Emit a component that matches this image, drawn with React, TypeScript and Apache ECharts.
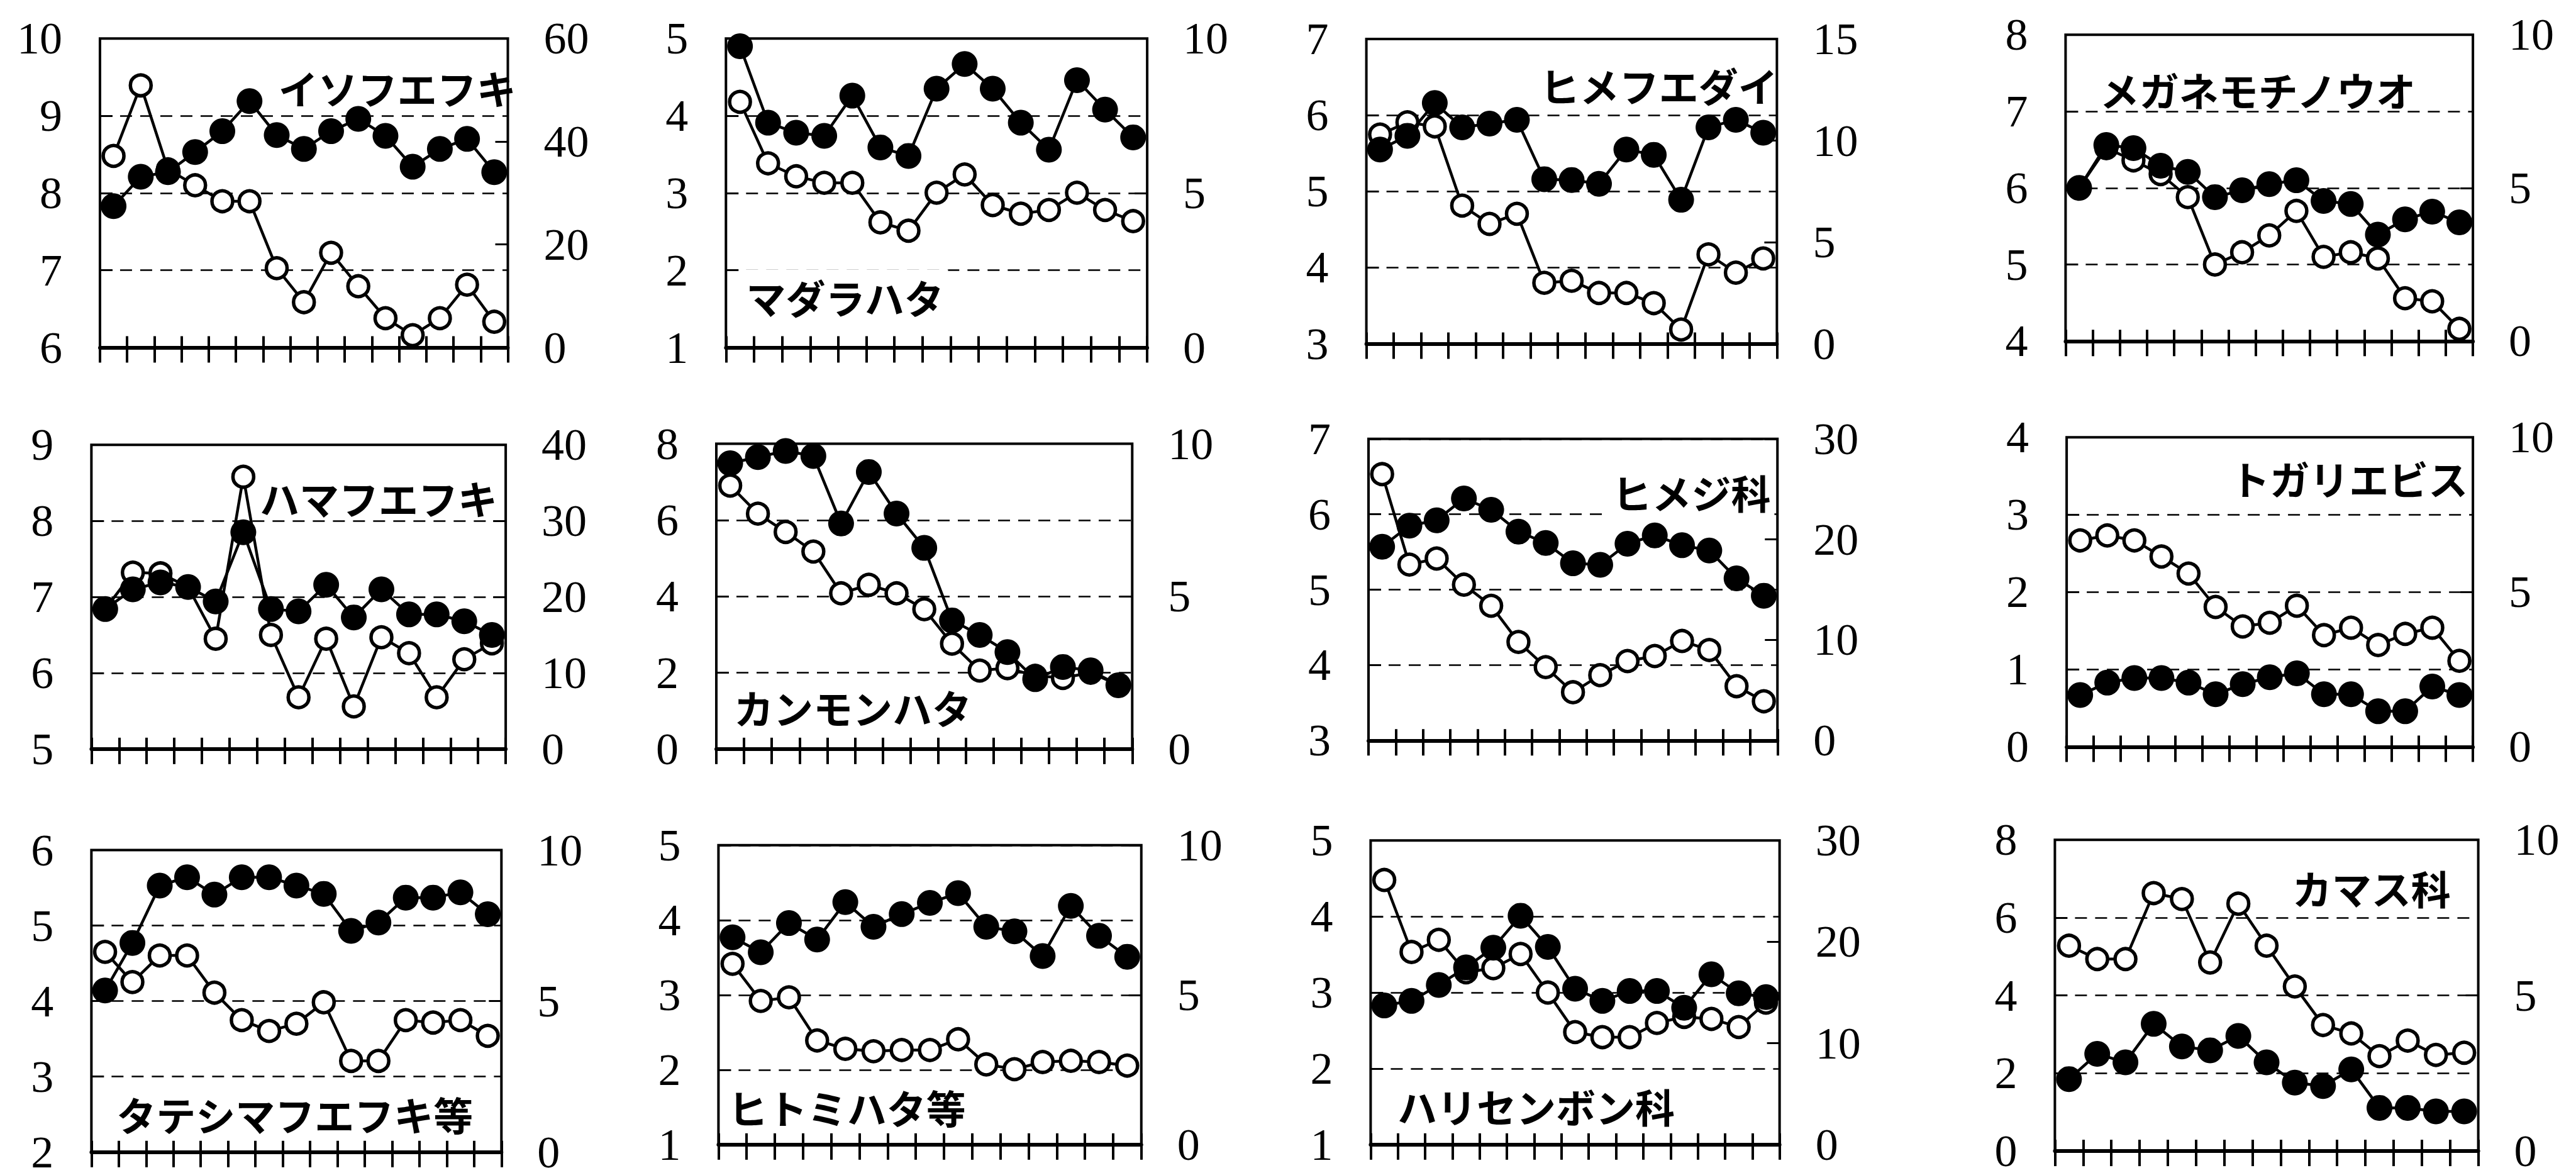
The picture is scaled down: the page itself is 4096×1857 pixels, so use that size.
import React, { useEffect, useRef } from "react";
import * as echarts from "echarts";

// ---------- data ----------
const categories = ["1", "2", "3", "4", "5", "6", "7", "8", "9", "10", "11", "12", "13", "14", "15"];

const panelNames = [
  "イソフエフキ", "マダラハタ", "ヒメフエダイ", "メガネモチノウオ",
  "ハマフエフキ", "カンモンハタ", "ヒメジ科", "トガリエビス",
  "タテシマフエフキ等", "ヒトミハタ等", "ハリセンボン科", "カマス科",
];

// left axis (filled circles) [min, max, interval]
const leftAxisTicks = [
  [6, 10, 1], [1, 5, 1], [3, 7, 1], [4, 8, 1],
  [5, 9, 1], [0, 8, 2], [3, 7, 1], [0, 4, 1],
  [2, 6, 1], [1, 5, 1], [1, 5, 1], [0, 8, 2],
];
// right axis (open circles) [min, max, interval]
const rightAxisTicks = [
  [0, 60, 20], [0, 10, 5], [0, 15, 5], [0, 10, 5],
  [0, 40, 10], [0, 10, 5], [0, 30, 10], [0, 10, 5],
  [0, 10, 5], [0, 10, 5], [0, 30, 10], [0, 10, 5],
];

const isofuefukiFilled = [7.83, 8.21, 8.27, 8.53, 8.8, 9.19, 8.75, 8.57, 8.8, 8.96, 8.74, 8.34, 8.57, 8.7, 8.27];
const isofuefukiOpen = [37.2, 50.9, 34.6, 31.5, 28.4, 28.4, 15.4, 8.8, 18.4, 11.9, 5.7, 2.4, 5.7, 12.2, 5.0];

const madarahataFilled = [4.9, 3.91, 3.78, 3.74, 4.26, 3.59, 3.48, 4.35, 4.67, 4.35, 3.91, 3.56, 4.46, 4.08, 3.72];
const madarahataOpen = [7.95, 5.96, 5.54, 5.33, 5.33, 4.05, 3.78, 5.01, 5.6, 4.61, 4.33, 4.45, 5.01, 4.45, 4.09];

const himefuedaiFilled = [5.55, 5.73, 6.16, 5.84, 5.89, 5.94, 5.16, 5.15, 5.1, 5.55, 5.48, 4.89, 5.84, 5.94, 5.77];
const himefuedaiOpen = [10.3, 10.9, 10.7, 6.8, 5.9, 6.4, 3.0, 3.1, 2.5, 2.5, 2.0, 0.7, 4.4, 3.5, 4.2];

const meganemochinouoFilled = [6.0, 6.56, 6.52, 6.29, 6.21, 5.88, 5.97, 6.05, 6.1, 5.83, 5.79, 5.39, 5.59, 5.69, 5.55];
const meganemochinouoOpen = [5.0, 6.3, 5.9, 5.45, 4.7, 2.5, 2.9, 3.45, 4.25, 2.75, 2.9, 2.7, 1.4, 1.3, 0.4];

const hamafuefukiFilled = [6.84, 7.1, 7.19, 7.13, 6.94, 7.85, 6.84, 6.81, 7.16, 6.73, 7.1, 6.77, 6.77, 6.68, 6.5];
const hamafuefukiOpen = [18.4, 23.2, 23.1, 21.3, 14.5, 35.8, 15.0, 6.8, 14.5, 5.6, 14.7, 12.6, 6.8, 11.8, 13.9];

const kanmonhataFilled = [7.49, 7.65, 7.81, 7.68, 5.91, 7.26, 6.17, 5.27, 3.37, 2.99, 2.54, 1.83, 2.15, 2.06, 1.67];
const kanmonhataOpen = [8.63, 7.71, 7.11, 6.47, 5.1, 5.38, 5.1, 4.58, 3.45, 2.57, 2.65, 2.4, 2.33, 2.5, 2.1];

const himejiFilled = [5.57, 5.85, 5.92, 6.21, 6.06, 5.77, 5.62, 5.35, 5.33, 5.61, 5.72, 5.59, 5.52, 5.15, 4.92];
const himejiOpen = [26.5, 17.5, 18.1, 15.5, 13.4, 9.8, 7.3, 4.8, 6.5, 7.9, 8.4, 9.9, 9.0, 5.4, 3.9];

const togariebisuFilled = [0.67, 0.83, 0.89, 0.89, 0.83, 0.68, 0.81, 0.9, 0.95, 0.68, 0.68, 0.46, 0.46, 0.78, 0.67];
const togariebisuOpen = [6.67, 6.83, 6.67, 6.15, 5.6, 4.52, 3.89, 4.01, 4.56, 3.61, 3.85, 3.29, 3.65, 3.85, 2.78];

const tateshimaFilled = [4.14, 4.77, 5.53, 5.64, 5.41, 5.64, 5.64, 5.53, 5.42, 4.93, 5.04, 5.37, 5.37, 5.44, 5.15];
const tateshimaOpen = [6.63, 5.63, 6.51, 6.51, 5.28, 4.37, 4.01, 4.25, 4.96, 3.02, 3.02, 4.37, 4.29, 4.37, 3.85];

const hitomihataFilled = [3.77, 3.57, 3.96, 3.74, 4.24, 3.91, 4.08, 4.23, 4.36, 3.91, 3.85, 3.52, 4.19, 3.79, 3.51];
const hitomihataOpen = [6.04, 4.8, 4.92, 3.48, 3.2, 3.12, 3.16, 3.16, 3.52, 2.68, 2.52, 2.76, 2.8, 2.76, 2.64];

const harisenbonFilled = [2.83, 2.89, 3.1, 3.33, 3.59, 4.01, 3.6, 3.05, 2.89, 3.02, 3.02, 2.8, 3.24, 2.99, 2.94];
const harisenbonOpen = [26.1, 19.0, 20.2, 17.0, 17.4, 18.8, 15.0, 11.1, 10.6, 10.6, 12.0, 12.6, 12.4, 11.6, 14.0];

const kamasuFilled = [1.85, 2.5, 2.28, 3.27, 2.69, 2.59, 2.96, 2.28, 1.76, 1.67, 2.1, 1.11, 1.11, 1.02, 1.02];
const kamasuOpen = [6.6, 6.17, 6.17, 8.29, 8.1, 6.06, 7.95, 6.6, 5.29, 4.05, 3.78, 3.05, 3.55, 3.09, 3.16];

const filledSeries = [
  isofuefukiFilled, madarahataFilled, himefuedaiFilled, meganemochinouoFilled,
  hamafuefukiFilled, kanmonhataFilled, himejiFilled, togariebisuFilled,
  tateshimaFilled, hitomihataFilled, harisenbonFilled, kamasuFilled,
];
const openSeries = [
  isofuefukiOpen, madarahataOpen, himefuedaiOpen, meganemochinouoOpen,
  hamafuefukiOpen, kanmonhataOpen, himejiOpen, togariebisuOpen,
  tateshimaOpen, hitomihataOpen, harisenbonOpen, kamasuOpen,
];

// ---------- layout (reference pixel coordinates, scaled by S) ----------
const S = 0.85;
const boxes = [
  [187, 72, 950, 650], [1358, 72, 2146, 650], [2556, 73, 3324, 643], [3864, 65, 4626, 638],
  [171, 832, 946, 1401], [1340, 830, 2118, 1401], [2560, 821, 3325, 1385], [3866, 818, 4626, 1397],
  [171, 1590, 938, 2155], [1344, 1581, 2135, 2141], [2564, 1572, 3329, 2141], [3844, 1571, 4636, 2153],
];
// title anchor: left x, centre y, white background?
const titlePos = [
  [521, 163, 0], [1384, 555, 1], [2881, 158, 0], [3928, 167, 0],
  [486, 930, 0], [1373, 1322, 0], [3004, 919, 1], [4172, 893, 0],
  [218, 2083, 0], [1362, 2070, 0], [2614, 2068, 0], [4288, 1659, 0],
];

function buildOption() {
  const grid: any[] = [];
  const xAxis: any[] = [];
  const yAxis: any[] = [];
  const series: any[] = [];
  const graphic: any[] = [];
  const labelFont = "Liberation Serif";

  boxes.forEach((b, i) => {
    const [l, t, r, bt] = b;
    grid.push({
      left: l * S,
      top: t * S,
      width: (r - l) * S,
      height: (bt - t) * S,
      show: true,
      borderColor: "#000",
      borderWidth: 4,
      backgroundColor: "transparent",
      containLabel: false,
      outerBoundsMode: "none",
    });
    const baseX = {
      type: "category",
      gridIndex: i,
      data: categories,
      boundaryGap: true,
      position: "bottom",
      axisLabel: { show: false, interval: 0 },
      splitLine: { show: false },
    };
    xAxis.push({
      ...baseX,
      axisLine: { show: true, onZero: false, lineStyle: { color: "#000", width: 6 } },
      axisTick: { show: true, inside: true, interval: 0, length: 18, lineStyle: { color: "#000", width: 4 } },
    });
    xAxis.push({
      ...baseX,
      axisLine: { show: false, onZero: false },
      axisTick: { show: true, inside: false, interval: 0, length: 24, lineStyle: { color: "#000", width: 4 } },
    });
    const [lmin, lmax, lint] = leftAxisTicks[i];
    const [rmin, rmax, rint] = rightAxisTicks[i];
    yAxis.push({
      type: "value",
      gridIndex: i,
      position: "left",
      min: lmin,
      max: lmax,
      interval: lint,
      axisLine: { show: false },
      axisTick: { show: true, inside: true, length: 20, lineStyle: { color: "#000", width: 3 } },
      axisLabel: { margin: 60, fontSize: 72, fontFamily: labelFont, color: "#000" },
      splitLine: { show: true, lineStyle: { color: "#000", width: 2.5, type: [19, 13] } },
    });
    yAxis.push({
      type: "value",
      gridIndex: i,
      position: "right",
      min: rmin,
      max: rmax,
      interval: rint,
      axisLine: { show: false },
      axisTick: { show: true, inside: true, length: 20, lineStyle: { color: "#000", width: 3 } },
      axisLabel: { margin: 57, fontSize: 72, fontFamily: labelFont, color: "#000" },
      splitLine: { show: false },
    });
    series.push({
      type: "line",
      xAxisIndex: 2 * i,
      yAxisIndex: 2 * i + 1,
      data: openSeries[i],
      symbol: "circle",
      symbolSize: 33,
      showAllSymbol: true,
      itemStyle: { color: "#fff", borderColor: "#000", borderWidth: 5.5 },
      lineStyle: { color: "#000", width: 4.5 },
      z: 3,
    });
    series.push({
      type: "line",
      xAxisIndex: 2 * i,
      yAxisIndex: 2 * i,
      data: filledSeries[i],
      symbol: "circle",
      symbolSize: 41,
      showAllSymbol: true,
      itemStyle: { color: "#000", borderColor: "#000", borderWidth: 0 },
      lineStyle: { color: "#000", width: 4.5 },
      z: 4,
    });
    const [tx, ty, bg] = titlePos[i];
    const style: any = {
      text: panelNames[i],
      fontSize: 63,
      fontWeight: "bold",
      fontFamily: "Noto Sans CJK JP",
      fill: "#000",
      textAlign: "left",
      textVerticalAlign: "middle",
      align: "left",
      verticalAlign: "middle",
    };
    if (bg) {
      style.backgroundColor = "#fff";
      style.padding = [12, 6, 12, 10];
    }
    graphic.push({ type: "text", x: tx * S, y: ty * S, z: 100, style });
  });

  return {
    animation: false,
    backgroundColor: "#fff",
    grid,
    xAxis,
    yAxis,
    series,
    graphic,
  };
}

export default function App() {
  const ref = useRef<HTMLDivElement>(null);
  useEffect(() => {
    if (!ref.current) return;
    const chart = echarts.init(ref.current, undefined, { renderer: "svg" });
    chart.setOption(buildOption() as any);
    return () => chart.dispose();
  }, []);
  return (
    <div
      ref={ref}
      style={{ position: "absolute", left: 0, top: 0, width: "4096px", height: "1857px", background: "#fff" }}
    />
  );
}
